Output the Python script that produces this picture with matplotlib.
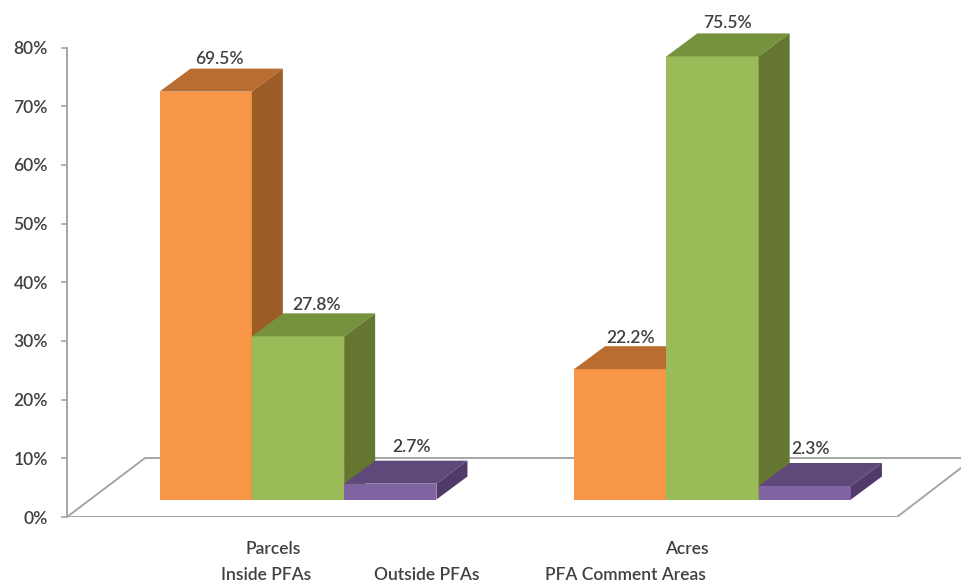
import numpy as np
import matplotlib
matplotlib.use("Agg")
import matplotlib.pyplot as plt

groups = ["Parcels", "Acres"]
series = ["Inside PFAs", "Outside PFAs", "PFA Comment Areas"]
parcels = [69.5, 27.8, 2.7]
acres = [22.2, 75.5, 2.3]
yticks = [0, 10, 20, 30, 40, 50, 60, 70, 80]

front = ["#f79646", "#9bbb59", "#8064a2"]
top = ["#b96d30", "#76923c", "#5f497a"]
side = ["#9c5c26", "#64762f", "#513a6b"]

W, H = 962, 583
plt.rcParams["font.family"] = "Lato"
fig = plt.figure(figsize=(W / 100, H / 100), dpi=100)
ax = fig.add_axes([67 / W, 1 - 517 / H, (W - 67) / W, (517 - 47.5) / H])

# scales: one group step is 414.5 px, 80% is 469.5 px
px_x = 1 / 414.5
px_y = 80 / 469.5
ax.set_xlim(-231 * px_x, 664 * px_x)
ax.set_ylim(0, 80)

bw = 92.3 * px_x
base = 17.5 * px_y
dx = 31 * px_x
dy = 23 * px_y

# floor of the chart
grey = "#a6a6a6"
fx0, fx1 = -231 * px_x, 599 * px_x
ax.plot([fx0, fx1, fx1 + 77 * px_x, fx0 + 78 * px_x, fx0],
        [0, 0, 59 * px_y, 59 * px_y, 0], color=grey, lw=1.4, zorder=1, clip_on=True)

label_dx = [[14, 19, 21], [10, 15, 6]]
label_dy = [[10, 8, 14], [8, 10, 14]]

for g, values in enumerate([parcels, acres]):
    for s, v in enumerate(values):
        x0 = g + (s - 1.5) * bw
        x1 = x0 + bw
        y1 = base + v
        ax.bar(x0, v, width=bw, bottom=base, align="edge", color=front[s], lw=0,
               zorder=3 + s, clip_on=False)
        ax.fill([x0, x0 + dx, x1 + dx, x1], [y1, y1 + dy, y1 + dy, y1],
                color=top[s], lw=0, zorder=3 + s, clip_on=False)
        ax.fill([x1, x1 + dx, x1 + dx, x1], [base, base + dy, y1 + dy, y1],
                color=side[s], lw=0, zorder=3 + s, clip_on=False)
        ax.text(x0 + bw / 2 + label_dx[g][s] * px_x, y1 + dy + label_dy[g][s] * px_y,
                f"{v}%", ha="center", va="center", fontsize=12.5, fontweight="semibold",
                color="#404040", zorder=10, clip_on=False)

for side_name in ["top", "right", "bottom"]:
    ax.spines[side_name].set_visible(False)
ax.spines["left"].set_color(grey)
ax.spines["left"].set_linewidth(1.4)
ax.set_xticks([])
ax.set_yticks(yticks)
ax.set_yticklabels([f"{t}%" for t in yticks], fontsize=12.5, fontweight="semibold", color="#404040")
ax.tick_params(axis="y", length=4.3, width=1.2, color=grey, pad=9.4)

# category and series names below the floor
text_pos = [(groups[0], 273, 549), (series[0], 266, 575), (series[1], 427, 575),
            (groups[1], 687, 549), (series[2], 625, 575)]
for name, px, py in text_pos:
    fig.text(px / W, 1 - py / H, name, ha="center", va="center",
             fontsize=12.5, fontweight="semibold", color="#404040")

fig.savefig("out.png", dpi=100)
